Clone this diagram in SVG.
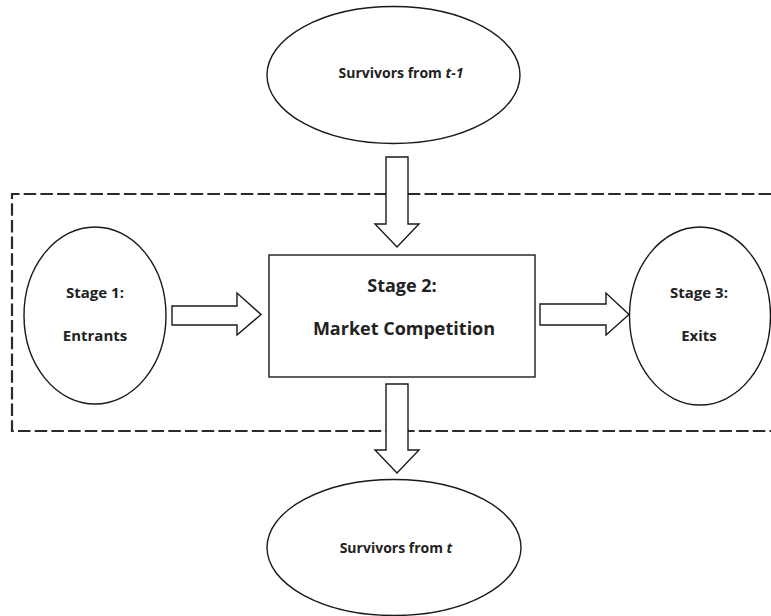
<svg xmlns="http://www.w3.org/2000/svg" width="771" height="616" viewBox="0 0 771 616">
<style>
.shape{fill:#fff;stroke:#1a1a1a;stroke-width:1.4}
.arrow{fill:#fff;stroke:#1a1a1a;stroke-width:1.4;stroke-linejoin:miter}
.dash{fill:none;stroke:#2a2a2a;stroke-width:2.2;stroke-dasharray:12.5 4.2}
text{font-family:"Open Sans","Noto Sans",sans-serif;font-weight:bold;fill:#222;text-anchor:middle}
.s{font-size:14px}
.m{font-size:15px}
.l{font-size:18px}
</style>
<rect width="771" height="616" fill="#fff"/>
<g id="boundary">
<path class="dash" d="M771,194 H12 V431 H771"/>
</g>
<g id="survivors-t-1">
<ellipse class="shape" cx="393.5" cy="75" rx="126.5" ry="68.5"/>
<text class="s" x="401" y="78">Survivors from <tspan font-style="italic">t-1</tspan></text>
</g>
<g id="stage1">
<ellipse class="shape" cx="95" cy="315.5" rx="71" ry="88.5"/>
<text class="m" x="95" y="298">Stage 1:</text>
<text class="m" x="95" y="341">Entrants</text>
</g>
<g id="stage2">
<rect class="shape" x="269" y="255" width="266" height="122"/>
<text class="l" x="402" y="292">Stage 2:</text>
<text class="l" x="404" y="335">Market Competition</text>
</g>
<g id="stage3">
<ellipse class="shape" cx="700" cy="316" rx="70.5" ry="89"/>
<text class="m" x="699" y="298">Stage 3:</text>
<text class="m" x="699" y="341">Exits</text>
</g>
<g id="survivors-t">
<ellipse class="shape" cx="394" cy="547.5" rx="127" ry="68"/>
<text class="s" x="396" y="553">Survivors from <tspan font-style="italic">t</tspan></text>
</g>
<g id="connectors">
<polygon class="arrow" points="386,157 408,157 408,224 419,224 397,247 375,224 386,224"/>
<polygon class="arrow" points="172,306 237,306 237,293 261,314.5 237,335 237,325 172,325"/>
<polygon class="arrow" points="540,304 606,304 606,293 629,314.5 606,335 606,325 540,325"/>
<polygon class="arrow" points="386,384 408,384 408,450 419,450 397,473 375,450 386,450"/>
</g>
</svg>
